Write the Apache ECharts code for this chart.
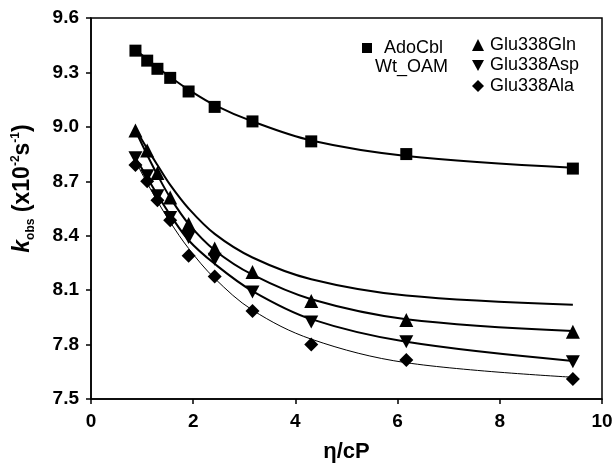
<!DOCTYPE html>
<html>
<head>
<meta charset="utf-8">
<script src="https://cdn.jsdelivr.net/npm/echarts@6/dist/echarts.min.js"></script>
<style>html,body{margin:0;padding:0;background:#fff}#c{width:616px;height:468px}</style>
</head>
<body>
<div id="c"></div>
<script>
// measured points (η/cP, kobs x10^-2 s^-1)
var eta = [0.87, 1.10, 1.30, 1.55, 1.91, 2.42, 3.16, 4.31, 6.17, 9.43];
var adoCbl = [9.42, 9.365, 9.32, 9.27, 9.195, 9.11, 9.03, 8.92, 8.85, 8.77];
var gln = [8.98, 8.87, 8.745, 8.61, 8.465, 8.33, 8.20, 8.04, 7.935, 7.87];
var asp = [8.83, 8.73, 8.62, 8.50, 8.39, 8.27, 8.09, 7.925, 7.815, 7.705];
var ala = [8.79, 8.70, 8.595, 8.485, 8.29, 8.175, 7.985, 7.80, 7.715, 7.61];
// fitted curves, at the same η values
var adoFit = [9.425, 9.372, 9.327, 9.275, 9.205, 9.12, 9.03, 8.925, 8.84, 8.775];
var glnFit = [8.98, 8.845, 8.735, 8.61, 8.465, 8.32, 8.185, 8.05, 7.94, 7.875];
var aspFit = [8.83, 8.72, 8.625, 8.515, 8.375, 8.245, 8.095, 7.94, 7.815, 7.71];
var alaFit = [8.81, 8.69, 8.59, 8.475, 8.33, 8.165, 7.99, 7.83, 7.70, 7.62];
var upperFit = [8.99, 8.88, 8.79, 8.68, 8.55, 8.41, 8.28, 8.16, 8.07, 8.02];
var xTicks = [0, 2, 4, 6, 8, 10];
var yTicks = [7.5, 7.8, 8.1, 8.4, 8.7, 9.0, 9.3, 9.6];

function pairs(ys) { return eta.map(function (x, i) { return [x, ys[i]]; }); }
var downTri = 'path://M0,0 L10,0 L5,9 Z';
var font = 'Liberation Sans, Arial, sans-serif';

function fitLine(name, ys, w) {
  return { name: name, type: 'line', data: pairs(ys), smooth: 0.35, symbol: 'none', showSymbol: false,
    lineStyle: { color: '#000', width: w }, z: 2, silent: true };
}
function marks(name, ys, sym, size) {
  return { name: name, type: 'scatter', data: pairs(ys), symbol: sym, symbolSize: size,
    itemStyle: { color: '#000', opacity: 1 }, z: 3 };
}

var chart = echarts.init(document.getElementById('c'));
chart.setOption({
  animation: false,
  backgroundColor: '#fff',
  grid: { left: 91, right: 14, top: 18, bottom: 67, show: true, borderColor: '#000', borderWidth: 1.5 },
  xAxis: {
    type: 'value', min: xTicks[0], max: xTicks[xTicks.length - 1], interval: 2,
    name: 'η/cP', nameLocation: 'middle', nameGap: 42,
    nameTextStyle: { fontFamily: font, fontWeight: 'bold', fontSize: 22, color: '#000' },
    axisLine: { lineStyle: { color: '#000', width: 1.5 } },
    axisTick: { show: true, length: 5, lineStyle: { color: '#000', width: 1.5 } },
    axisLabel: { fontFamily: font, fontWeight: 'bold', fontSize: 19, color: '#000', margin: 13 },
    splitLine: { show: false }
  },
  yAxis: {
    type: 'value', min: yTicks[0], max: yTicks[yTicks.length - 1], interval: 0.3,
    name: '{k|k}{sub|obs}{n| (x10}{sup|-2}{n|s}{sup|-1}{n|)}',
    nameLocation: 'middle', nameGap: 57, nameRotate: 90,
    nameTextStyle: {
      color: '#000', padding: [0, 0, 0, 40],
      rich: {
        k: { fontFamily: font, fontWeight: 'bold', fontStyle: 'italic', fontSize: 23, color: '#000', lineHeight: 26, verticalAlign: 'bottom' },
        n: { fontFamily: font, fontWeight: 'bold', fontSize: 23, color: '#000', lineHeight: 26, verticalAlign: 'bottom' },
        sub: { fontFamily: font, fontWeight: 'bold', fontSize: 12, color: '#000', lineHeight: 26, verticalAlign: 'bottom', padding: [0, 0, -3, 0] },
        sup: { fontFamily: font, fontWeight: 'bold', fontSize: 12, color: '#000', lineHeight: 26, verticalAlign: 'top', padding: [2, 0, 0, 0] }
      }
    },
    axisLine: { show: true, lineStyle: { color: '#000', width: 1.5 } },
    axisTick: { show: true, length: 5, lineStyle: { color: '#000', width: 1.5 } },
    axisLabel: { fontFamily: font, fontWeight: 'bold', fontSize: 19, color: '#000', margin: 12,
      formatter: function (v) { return v.toFixed(1); } },
    splitLine: { show: false }
  },
  legend: [
    { orient: 'vertical', left: 357, top: 34, itemWidth: 10, itemHeight: 10, itemGap: 4,
      data: [{ name: 'AdoCbl', icon: 'rect' }],
      itemStyle: { opacity: 1 },
      textStyle: { fontFamily: font, fontSize: 18, color: '#000', padding: [0, 0, 0, 7] } },
    { orient: 'vertical', left: 467, top: 31, itemWidth: 12, itemHeight: 12, itemGap: 2.5,
      data: [{ name: 'Glu338Gln', icon: 'triangle' }, { name: 'Glu338Asp', icon: downTri }, { name: 'Glu338Ala', icon: 'diamond' }],
      itemStyle: { opacity: 1 },
      textStyle: { fontFamily: font, fontSize: 18, color: '#000', padding: [0, 0, 0, 1] } }
  ],
  graphic: [
    { type: 'text', left: 375, top: 58, style: { text: 'Wt_OAM', fontFamily: font, fontSize: 18, fill: '#000' } }
  ],
  series: [
    fitLine('upper fit', upperFit, 2),
    fitLine('AdoCbl fit', adoFit, 2),
    fitLine('Glu338Gln fit', glnFit, 2),
    fitLine('Glu338Asp fit', aspFit, 2),
    fitLine('Glu338Ala fit', alaFit, 1),
    marks('AdoCbl', adoCbl, 'rect', 12),
    marks('Glu338Gln', gln, 'triangle', 14),
    marks('Glu338Asp', asp, downTri, [14, 13]),
    marks('Glu338Ala', ala, 'diamond', 14)
  ]
});
</script>
</body>
</html>
